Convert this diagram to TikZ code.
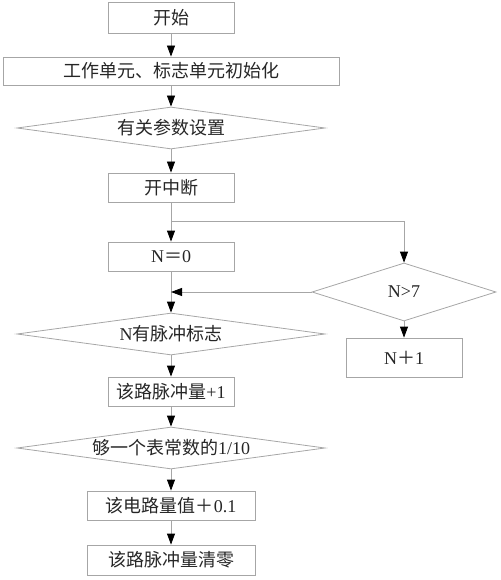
\documentclass[tikz,border=0pt]{standalone}
\usepackage{fontspec}
\setmainfont{Liberation Serif}
\newfontfamily\cjk{Noto Sans CJK SC}
\usetikzlibrary{arrows.meta,shapes.geometric}
\begin{document}
\begin{tikzpicture}[x=1pt,y=-1pt,
  line/.style={draw=black!35, line width=0.8pt},
  box/.style={line, rectangle, inner sep=0pt, font=\fontsize{18}{21}\selectfont, text=black!85},
  dia/.style={line, diamond, inner sep=0pt, label={[font=\fontsize{18}{21}\selectfont, text=black!85]center:#1}},
  arr/.style={line, -{Triangle[length=11pt,width=8pt,color=black]}}
]
\useasboundingbox (0,0) rectangle (500,580);
\node[box, minimum width=126pt, minimum height=31pt] (start) at (171,17.5) {\cjk 开始};
\node[box, minimum width=336pt, minimum height=28pt] (init) at (171,71) {\cjk 工作单元、标志单元初始化};
\node[dia={\cjk 有关参数设置}, minimum width=308pt, minimum height=42pt] (d1) at (171,128) {};
\node[box, minimum width=126pt, minimum height=29pt] (int) at (171,187.5) {\cjk 开中断};
\node[box, minimum width=126pt, minimum height=29pt] (n0) at (171,256.5) {N{\cjk ＝}0};
\node[dia={N>7}, minimum width=184pt, minimum height=58pt] (d4) at (404,292) {};
\node[box, minimum width=116pt, minimum height=39pt] (n1) at (404,357.5) {N{\cjk ＋}1};
\node[dia={N{\cjk 有脉冲标志}}, minimum width=308pt, minimum height=42pt] (d2) at (171,334) {};
\node[box, minimum width=126pt, minimum height=29pt] (p1) at (171,391.5) {{\cjk 该路脉冲量}+1};
\node[dia={{\cjk 够一个表常数的}1/10}, minimum width=308pt, minimum height=42pt] (d3) at (171,448) {};
\node[box, minimum width=168pt, minimum height=29pt] (v) at (171,505.5) {{\cjk 该电路量值＋}0.1};
\node[box, minimum width=168pt, minimum height=30pt] (clr) at (171,560) {\cjk 该路脉冲量清零};
\coordinate (br) at (171,221);
\coordinate (mg) at (n0.south |- d4.west);
\draw[arr] (start) -- (init);
\draw[arr] (init) -- (d1);
\draw[arr] (d1) -- (int);
\draw[arr] (int) -- (n0);
\draw[arr] (br) -| (d4.north);
\draw[arr] (n0) -- (d2);
\draw[arr] (d4.west) -- (mg);
\draw[arr] (d4) -- (n1);
\draw[arr] (d2) -- (p1);
\draw[arr] (p1) -- (d3);
\draw[arr] (d3) -- (v);
\draw[arr] (v) -- (clr);
\end{tikzpicture}
\end{document}
